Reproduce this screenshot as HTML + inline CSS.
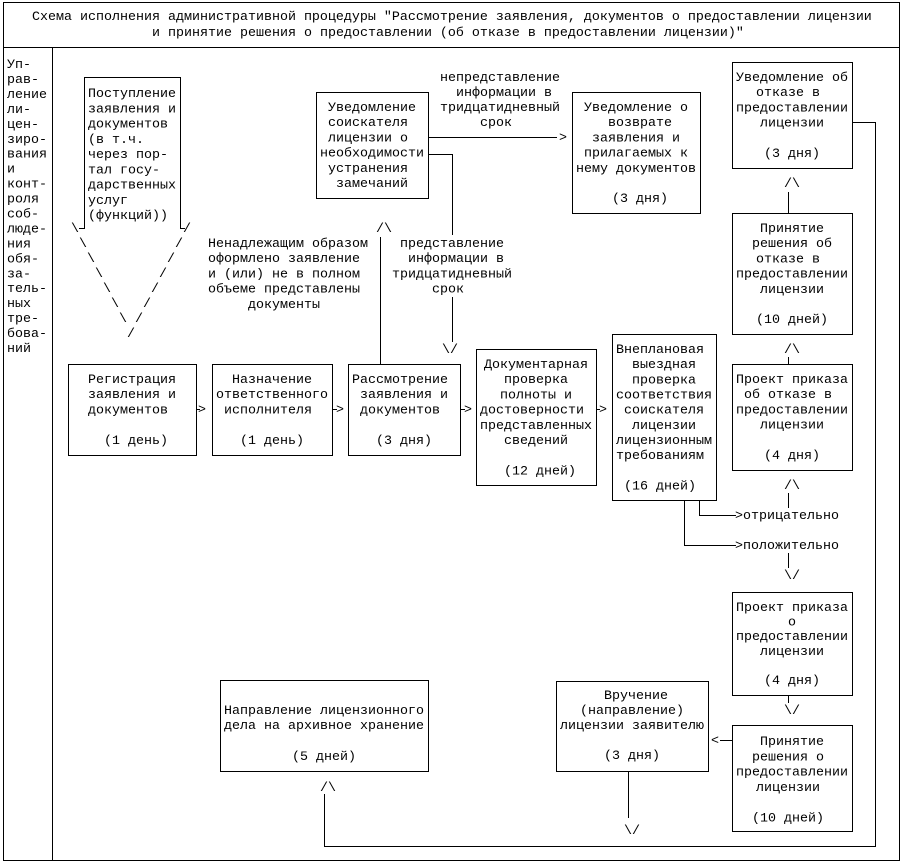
<!DOCTYPE html>
<html>
<head>
<meta charset="utf-8">
<style>
  html,body{margin:0;padding:0;background:#fff;}
  svg{display:block;}
  text{font-family:"Liberation Mono","DejaVu Sans Mono",monospace;font-size:13.33px;fill:#000;}
  .l{stroke:#000;stroke-width:1;fill:none;shape-rendering:crispEdges;}
</style>
</head>
<body>
<svg width="904" height="866" viewBox="0 0 904 866" xmlns="http://www.w3.org/2000/svg">
  <rect x="0" y="0" width="904" height="866" fill="#fff"/>
  <rect class="l" x="3.5" y="2.5" width="896" height="858"/>
  <line class="l" x1="3" y1="47.5" x2="900" y2="47.5"/>
  <line class="l" x1="52.5" y1="47" x2="52.5" y2="861"/>

  <text x="32" y="20">Схема исполнения административной процедуры "Рассмотрение заявления, документов о предоставлении лицензии</text>
  <text x="152" y="36">и принятие решения о предоставлении (об отказе в предоставлении лицензии)"</text>

  <text x="7" y="68"><tspan x="7" dy="0">Уп-</tspan><tspan x="7" dy="14.95">рав-</tspan><tspan x="7" dy="14.95">ление</tspan><tspan x="7" dy="14.95">ли-</tspan><tspan x="7" dy="14.95">цен-</tspan><tspan x="7" dy="14.95">зиро-</tspan><tspan x="7" dy="14.95">вания</tspan><tspan x="7" dy="14.95">и</tspan><tspan x="7" dy="14.95">конт-</tspan><tspan x="7" dy="14.95">роля</tspan><tspan x="7" dy="14.95">соб-</tspan><tspan x="7" dy="14.95">люде-</tspan><tspan x="7" dy="14.95">ния</tspan><tspan x="7" dy="14.95">обя-</tspan><tspan x="7" dy="14.95">за-</tspan><tspan x="7" dy="14.95">тель-</tspan><tspan x="7" dy="14.95">ных</tspan><tspan x="7" dy="14.95">тре-</tspan><tspan x="7" dy="14.95">бова-</tspan><tspan x="7" dy="14.95">ний</tspan></text>

  <path class="l" d="M79,228.5 H84.5 V77.5 H180.5 V228.5 H185"/>
  <text x="88" y="97"><tspan x="88" dy="0">Поступление</tspan><tspan x="88" dy="15.25">заявления и</tspan><tspan x="88" dy="15.25">документов</tspan><tspan x="88" dy="15.25">(в т.ч.</tspan><tspan x="88" dy="15.25">через пор-</tspan><tspan x="88" dy="15.25">тал госу-</tspan><tspan x="88" dy="15.25">дарственных</tspan><tspan x="88" dy="15.25">услуг</tspan><tspan x="88" dy="15.25">(функций))</tspan></text>
  <g text-anchor="middle">
    <text x="75" y="232">\</text><text x="83" y="247">\</text><text x="91" y="262">\</text><text x="99" y="277">\</text><text x="107" y="292">\</text><text x="115" y="307">\</text><text x="123" y="322">\</text>
    <text x="187" y="232">/</text><text x="179" y="247">/</text><text x="171" y="262">/</text><text x="163" y="277">/</text><text x="155" y="292">/</text><text x="147" y="307">/</text><text x="139" y="322">/</text><text x="131" y="337">/</text>
  </g>

  <rect class="l" x="316.5" y="92.5" width="112" height="106"/>
  <text text-anchor="middle" y="111"><tspan x="372" dy="0">Уведомление</tspan><tspan x="368" dy="15.2">соискателя</tspan><tspan x="368" dy="15.2">лицензии о</tspan><tspan x="372" dy="15.2">необходимости</tspan><tspan x="368" dy="15.2">устранения</tspan><tspan x="372" dy="15.2">замечаний</tspan></text>

  <rect class="l" x="572.5" y="92.5" width="128" height="121"/>
  <text text-anchor="middle" y="111"><tspan x="636" dy="0">Уведомление о</tspan><tspan x="640" dy="15.2">возврате</tspan><tspan x="636" dy="15.2">заявления и</tspan><tspan x="636" dy="15.2">прилагаемых к</tspan><tspan x="636" dy="15.2">нему документов</tspan><tspan x="640" dy="30.4">(3 дня)</tspan></text>

  <text text-anchor="middle" y="81"><tspan x="500" dy="0">непредставление</tspan><tspan x="504" dy="15">информации в</tspan><tspan x="500" dy="15">тридцатидневный</tspan><tspan x="496" dy="15">срок</tspan></text>
  <line class="l" x1="428" y1="137.5" x2="557" y2="137.5"/>
  <text x="563" y="141" text-anchor="middle">&gt;</text>

  <path class="l" d="M428,154.5 H452.5 V235"/>
  <line class="l" x1="452.5" y1="297" x2="452.5" y2="342"/>
  <text text-anchor="middle" y="247"><tspan x="452" dy="0">представление</tspan><tspan x="456" dy="15.2">информации в</tspan><tspan x="452" dy="15.2">тридцатидневный</tspan><tspan x="448" dy="15.2">срок</tspan></text>
  <text x="450" y="353" text-anchor="middle">\/</text>

  <text y="247"><tspan x="208" dy="0">Ненадлежащим образом</tspan><tspan x="208" dy="15.2">оформлено заявление</tspan><tspan x="208" dy="15.2">и (или) не в полном</tspan><tspan x="208" dy="15.2">объеме представлены</tspan><tspan x="248" dy="15.2">документы</tspan></text>
  <text x="384" y="232" text-anchor="middle">/\</text>
  <line class="l" x1="380.5" y1="237" x2="380.5" y2="364"/>

  <rect class="l" x="68.5" y="364.5" width="128" height="91"/>
  <text text-anchor="middle" y="383"><tspan x="132" dy="0">Регистрация</tspan><tspan x="132" dy="15.2">заявления и</tspan><tspan x="128" dy="15.2">документов</tspan><tspan x="136" dy="30.4">(1 день)</tspan></text>
  <line class="l" x1="196" y1="409.5" x2="200" y2="409.5"/>
  <text x="202" y="413" text-anchor="middle">&gt;</text>

  <rect class="l" x="212.5" y="364.5" width="120" height="91"/>
  <text text-anchor="middle" y="383"><tspan x="272" dy="0">Назначение</tspan><tspan x="272" dy="15.2">ответственного</tspan><tspan x="268" dy="15.2">исполнителя</tspan><tspan x="272" dy="30.4">(1 день)</tspan></text>
  <line class="l" x1="332" y1="409.5" x2="337" y2="409.5"/>
  <text x="340" y="413" text-anchor="middle">&gt;</text>

  <rect class="l" x="348.5" y="364.5" width="112" height="91"/>
  <text text-anchor="middle" y="383"><tspan x="400" dy="0">Рассмотрение</tspan><tspan x="404" dy="15.2">заявления и</tspan><tspan x="400" dy="15.2">документов</tspan><tspan x="404" dy="30.4">(3 дня)</tspan></text>
  <line class="l" x1="460" y1="409.5" x2="465" y2="409.5"/>
  <text x="468" y="413" text-anchor="middle">&gt;</text>

  <rect class="l" x="476.5" y="349.5" width="120" height="136"/>
  <text text-anchor="middle" y="368"><tspan x="536" dy="0">Документарная</tspan><tspan x="536" dy="15.2">проверка</tspan><tspan x="536" dy="15.2">полноты и</tspan><tspan x="532" dy="15.2">достоверности</tspan><tspan x="536" dy="15.2">представленных</tspan><tspan x="536" dy="15.2">сведений</tspan><tspan x="540" dy="30.4">(12 дней)</tspan></text>
  <line class="l" x1="596" y1="409.5" x2="600" y2="409.5"/>
  <text x="603" y="413" text-anchor="middle">&gt;</text>

  <rect class="l" x="612.5" y="334.5" width="104" height="166"/>
  <text text-anchor="middle" y="353"><tspan x="660" dy="0">Внеплановая</tspan><tspan x="664" dy="15.15">выездная</tspan><tspan x="664" dy="15.15">проверка</tspan><tspan x="664" dy="15.15">соответствия</tspan><tspan x="664" dy="15.15">соискателя</tspan><tspan x="664" dy="15.15">лицензии</tspan><tspan x="664" dy="15.15">лицензионным</tspan><tspan x="660" dy="15.15">требованиям</tspan><tspan x="660" dy="30.3">(16 дней)</tspan></text>
  <path class="l" d="M699.5,500 V515.5 H736"/>
  <path class="l" d="M684.5,500 V545.5 H736"/>
  <text x="735" y="519">&gt;отрицательно</text>
  <text x="735" y="549">&gt;положительно</text>

  <rect class="l" x="732.5" y="62.5" width="120" height="106"/>
  <text text-anchor="middle" y="81"><tspan x="792" dy="0">Уведомление об</tspan><tspan x="788" dy="15.2">отказе в</tspan><tspan x="792" dy="15.2">предоставлении</tspan><tspan x="792" dy="15.2">лицензии</tspan><tspan x="792" dy="30.4">(3 дня)</tspan></text>
  <text x="792" y="187" text-anchor="middle">/\</text>
  <line class="l" x1="788.5" y1="192" x2="788.5" y2="213"/>

  <rect class="l" x="732.5" y="213.5" width="120" height="121"/>
  <text text-anchor="middle" y="232"><tspan x="792" dy="0">Принятие</tspan><tspan x="792" dy="15.2">решения об</tspan><tspan x="788" dy="15.2">отказе в</tspan><tspan x="792" dy="15.2">предоставлении</tspan><tspan x="792" dy="15.2">лицензии</tspan><tspan x="792" dy="30.4">(10 дней)</tspan></text>
  <text x="792" y="353" text-anchor="middle">/\</text>
  <line class="l" x1="788.5" y1="357" x2="788.5" y2="364"/>

  <rect class="l" x="732.5" y="364.5" width="120" height="106"/>
  <text text-anchor="middle" y="383"><tspan x="792" dy="0">Проект приказа</tspan><tspan x="788" dy="15.2">об отказе в</tspan><tspan x="792" dy="15.2">предоставлении</tspan><tspan x="792" dy="15.2">лицензии</tspan><tspan x="792" dy="30.4">(4 дня)</tspan></text>
  <text x="792" y="489" text-anchor="middle">/\</text>
  <line class="l" x1="788.5" y1="493" x2="788.5" y2="508"/>

  <line class="l" x1="788.5" y1="553" x2="788.5" y2="568"/>
  <text x="792" y="579" text-anchor="middle">\/</text>

  <rect class="l" x="732.5" y="592.5" width="120" height="103"/>
  <text text-anchor="middle" y="611"><tspan x="792" dy="0">Проект приказа</tspan><tspan x="792" dy="14.6">о</tspan><tspan x="792" dy="14.6">предоставлении</tspan><tspan x="792" dy="14.6">лицензии</tspan><tspan x="792" dy="29.2">(4 дня)</tspan></text>
  <line class="l" x1="788.5" y1="695" x2="788.5" y2="703"/>
  <text x="792" y="714" text-anchor="middle">\/</text>

  <rect class="l" x="732.5" y="725.5" width="120" height="106"/>
  <text text-anchor="middle" y="745"><tspan x="792" dy="0">Принятие</tspan><tspan x="788" dy="15.3">решения о</tspan><tspan x="792" dy="15.3">предоставлении</tspan><tspan x="788" dy="15.3">лицензии</tspan><tspan x="788" dy="30.6">(10 дней)</tspan></text>
  <line class="l" x1="720" y1="740.5" x2="732" y2="740.5"/>
  <text x="715" y="744" text-anchor="middle">&lt;</text>

  <rect class="l" x="556.5" y="681.5" width="152" height="90"/>
  <text text-anchor="middle" y="699"><tspan x="636" dy="0">Вручение</tspan><tspan x="632" dy="15">(направление)</tspan><tspan x="632" dy="15">лицензии заявителю</tspan><tspan x="632" dy="30">(3 дня)</tspan></text>
  <line class="l" x1="628.5" y1="771" x2="628.5" y2="818"/>
  <text x="632" y="834" text-anchor="middle">\/</text>

  <rect class="l" x="220.5" y="680.5" width="208" height="91"/>
  <text text-anchor="middle" y="714"><tspan x="324" dy="0">Направление лицензионного</tspan><tspan x="324" dy="15">дела на архивное хранение</tspan><tspan x="324" dy="31">(5 дней)</tspan></text>

  <path class="l" d="M852,122.5 H875.5 V846.5 H324.5 V794"/>
  <text x="328" y="791" text-anchor="middle">/\</text>
</svg>
</body>
</html>
